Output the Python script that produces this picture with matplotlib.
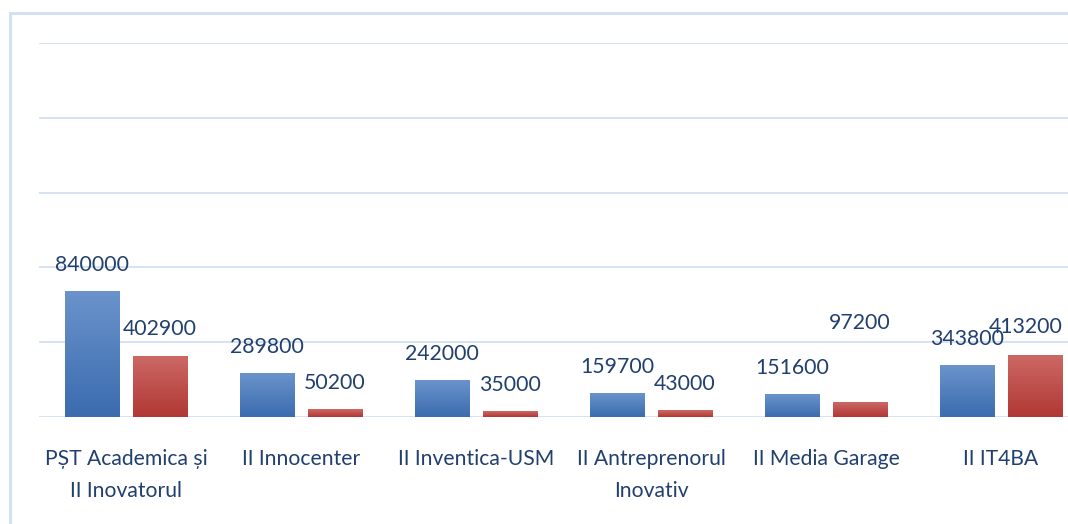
import numpy as np
import matplotlib.pyplot as plt
from matplotlib.colors import LinearSegmentedColormap
from matplotlib.patches import Rectangle

# data
categories = ['PȘT Academica și\nII Inovatorul', 'II Innocenter', 'II Inventica-USM',
              'II Antreprenorul\nInovativ', 'II Media Garage', 'II IT4BA']
series_blue = [840000, 289800, 242000, 159700, 151600, 343800]
series_red = [402900, 50200, 35000, 43000, 97200, 413200]

# label offsets in points (Excel labels that were moved by hand)
red_label_dy = [20, 19, 19, 19, 57, 20.5]
red_label_dx = [0, 0, 0, 0, 0, -6.5]

txt_color = '#21406F'
font = ['Lato', 'DejaVu Sans']

fig = plt.figure(figsize=(10.68, 5.24), dpi=100)
fig.patches.append(Rectangle((10 / 1068, -0.1), 1.2, (524 - 13.5) / 524 + 0.1,
                             transform=fig.transFigure, fill=False,
                             edgecolor='#D3E0F1', linewidth=2.2, zorder=0))
ax = fig.add_axes([38.5 / 1068, 107 / 524, 1 - 38.5 / 1068, 374 / 524])

x = np.arange(len(categories))
w = 0.309
off = 0.193
b1 = ax.bar(x - off, series_blue, w, color='#4A7BBF', edgecolor='white', linewidth=0.6, zorder=2)
b2 = ax.bar(x + off, series_red, w, color='#BF4A46', edgecolor='white', linewidth=0.6, zorder=2)

cm_blue = LinearSegmentedColormap.from_list('b', ['#3B6CAF', '#6A93CB'])
cm_red = LinearSegmentedColormap.from_list('r', ['#B13835', '#CC6864'])
grad = np.linspace(0, 1, 64).reshape(-1, 1)
for bars, cm in [(b1, cm_blue), (b2, cm_red)]:
    for r in bars:
        x0, h, bw = r.get_x(), r.get_height(), r.get_width()
        ax.imshow(grad, extent=(x0, x0 + bw, 0, h), origin='lower', cmap=cm,
                  aspect='auto', zorder=3, interpolation='bilinear')

for i, v in enumerate(series_blue):
    ax.annotate(str(v), (x[i] - off, v), xytext=(0, 19), textcoords='offset points',
                ha='center', va='center', fontsize=15.3, color=txt_color, family=font)
for i, v in enumerate(series_red):
    ax.annotate(str(v), (x[i] + off, v), xytext=(red_label_dx[i], red_label_dy[i]),
                textcoords='offset points', ha='center', va='center',
                fontsize=15.3, color=txt_color, family=font)

ax.set_xlim(-0.5, 5.5 - 20.5 / 175)
ax.set_ylim(0, 2500000)
ax.set_yticks(np.arange(0, 2500001, 500000))
ax.yaxis.grid(True, color='#D3E0F1', linewidth=1.3, zorder=0)
ax.set_axisbelow(True)
ax.tick_params(axis='y', left=False, labelleft=False)
ax.set_xticks(x)
ax.set_xticklabels(categories, fontsize=15.2, color=txt_color, family=font, linespacing=1.75)
ax.tick_params(axis='x', length=0, pad=23)
for s in ax.spines.values():
    s.set_visible(False)

fig.savefig('out.png', dpi=100)
